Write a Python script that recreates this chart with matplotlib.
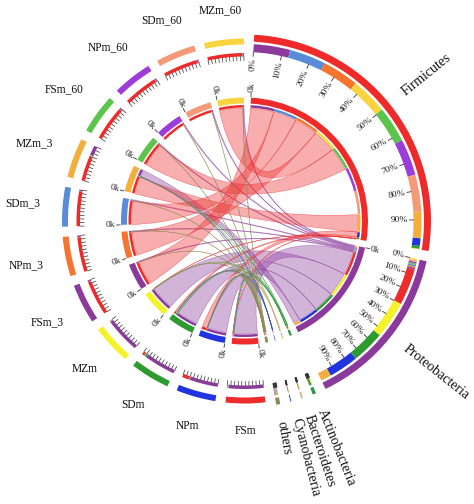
import numpy as np
import matplotlib
matplotlib.use("Agg")
import matplotlib.pyplot as plt
from matplotlib.patches import Wedge, PathPatch
from matplotlib.path import Path
from matplotlib.colors import to_rgb

plt.rcParams['font.family'] = ['Liberation Serif', 'DejaVu Serif']

# ---------------- data ----------------
taxa = ["Firmicutes", "Proteobacteria", "Actinobacteria", "Bacteroidetes", "Cyanobacteria", "others"]
taxa_colors = ["#EE2A2A", "#8B3A9B", "#2E9B3E", "#C8B47E", "#3552D6", "#8C8A55"]

samples = ["FSm", "NPm", "SDm", "MZm", "FSm_3", "NPm_3", "SDm_3", "MZm_3",
           "FSm_60", "NPm_60", "SDm_60", "MZm_60"]
sample_colors = ["#EE2C2C", "#2233E0", "#2E9B30", "#F5F22A", "#8B3A9B", "#F7742F",
                 "#5A8BD9", "#F5AE3C", "#5BC54B", "#9C3DDB", "#F49A78", "#F8D53E"]

# relative abundance (%) of each phylum in each sample
firmicutes     = [1, 20, 7, 1, 95, 95, 95, 70, 95, 95, 95, 95]
proteobacteria = [95, 78, 86, 97, 4, 4, 4, 27, 4, 4, 4, 4]
actinobacteria = [1, 0.5, 5, 1, 0, 0, 0, 1, 0, 0, 0, 0]
bacteroidetes  = [1, 0.5, 1, 0.5, 0, 0, 0, 1, 0, 0, 0, 0]
cyanobacteria  = [1, 0.5, 0.5, 0, 0, 0, 0, 0.5, 0, 0, 0, 0]
others         = [1, 0.5, 0.5, 0.5, 1, 1, 1, 0.5, 1, 1, 1, 1]
table = [firmicutes, proteobacteria, actinobacteria, bacteroidetes, cyanobacteria, others]

# order of links inside each segment
firm_link_order = ["FSm_3", "SDm_3", "NPm_3", "MZm_60", "FSm_60", "NPm_60", "SDm_60",
                   "MZm_3", "NPm", "SDm", "FSm", "MZm"]
prot_link_order = ["MZm_60", "SDm_60", "NPm_60", "FSm_60", "SDm_3", "NPm_3", "FSm_3",
                   "FSm", "MZm", "SDm", "NPm", "MZm_3"]
minor_link_order = ["MZm_60", "SDm_60", "NPm_60", "FSm_60", "MZm_3", "SDm_3", "NPm_3",
                    "FSm_3", "MZm", "SDm", "NPm", "FSm"]
proteo_first_samples = ["FSm", "NPm", "SDm", "MZm"]
proteo_first_order = ["Proteobacteria", "Actinobacteria", "Bacteroidetes", "Cyanobacteria", "others", "Firmicutes"]
firm_first_order = ["Firmicutes", "Actinobacteria", "Bacteroidetes", "Cyanobacteria", "others", "Proteobacteria"]
hidden_links = [("Firmicutes", "NPm_60"), ("Firmicutes", "SDm_60")]

# ---------------- geometry ----------------
W, H = 474, 504
CX, CY = 244.5, 221.0
START, GAP = 3.0, 3.2

val = {(t, s): table[i][j] for i, t in enumerate(taxa) for j, s in enumerate(samples)}
tcol = dict(zip(taxa, taxa_colors))
scol = dict(zip(samples, sample_colors))

seg_names = taxa + samples
seg_tot = {t: sum(table[i]) for i, t in enumerate(taxa)}
for j, s in enumerate(samples):
    seg_tot[s] = sum(table[i][j] for i in range(len(taxa)))
grand = sum(seg_tot.values())
unit = (360.0 - GAP * len(seg_names)) / grand

seg_start, seg_end = {}, {}
a = START
for n in seg_names:
    seg_start[n] = a
    seg_end[n] = a + seg_tot[n] * unit
    a = seg_end[n] + GAP

# link positions on each side
pos_t, pos_s = {}, {}
for t in taxa:
    order = firm_link_order if t == "Firmicutes" else prot_link_order if t == "Proteobacteria" else minor_link_order
    a = seg_start[t]
    for s in order:
        v = val[(t, s)]
        if v > 0:
            pos_t[(t, s)] = (a, a + v * unit)
            a += v * unit
for s in samples:
    order = proteo_first_order if s in proteo_first_samples else firm_first_order
    a = seg_start[s]
    for t in order:
        v = val[(t, s)]
        if v > 0:
            pos_s[(t, s)] = (a, a + v * unit)
            a += v * unit

fig = plt.figure(figsize=(W / 100, H / 100), dpi=100)
ax = fig.add_axes([0, 0, 1, 1])
ax.set_xlim(-CX, W - CX)
ax.set_ylim(-(H - CY), CY)
ax.set_aspect('equal')
ax.axis('off')


def pt(th, r):
    t = np.radians(th)
    return np.array([r * np.sin(t), r * np.cos(t)])


def band(th1, th2, r1, r2, color, z=3):
    ax.add_patch(Wedge((0, 0), r2, 90 - th2, 90 - th1, width=r2 - r1,
                       facecolor=color, edgecolor='none', zorder=z))


def ribbon(a1, a2, b1, b2, color, R=113.0):
    verts, codes = [], []
    n1 = max(2, int(abs(a2 - a1) * 3) + 2)
    n2 = max(2, int(abs(b2 - b1) * 3) + 2)
    for k, th in enumerate(np.linspace(a1, a2, n1)):
        verts.append(pt(th, R))
        codes.append(Path.MOVETO if k == 0 else Path.LINETO)
    verts += [(0, 0), pt(b1, R)]
    codes += [Path.CURVE3, Path.CURVE3]
    for th in np.linspace(b1, b2, n2)[1:]:
        verts.append(pt(th, R))
        codes.append(Path.LINETO)
    verts += [(0, 0), pt(a1, R)]
    codes += [Path.CURVE3, Path.CURVE3]
    rgb = to_rgb(color)
    ax.add_patch(PathPatch(Path(verts, codes), facecolor=(*rgb, 0.38),
                           edgecolor=(*rgb, 0.6), lw=0.4, zorder=1))


# ribbons
for t in ["Proteobacteria", "Firmicutes", "Actinobacteria", "Bacteroidetes", "Cyanobacteria", "others"]:
    for s in samples:
        if (t, s) in pos_t and (t, s) not in hidden_links:
            a1, a2 = pos_t[(t, s)]
            b1, b2 = pos_s[(t, s)]
            ribbon(a1, a2, b1, b2, tcol[t])

# inner ring bands
for n in seg_names:
    c = tcol[n] if n in taxa else scol[n]
    band(seg_start[n], seg_end[n], 117.5, 123.5, c)
for (t, s), (a1, a2) in pos_t.items():
    band(a1, a2, 113.5, 116.0, scol[s])
for (t, s), (b1, b2) in pos_s.items():
    band(b1, b2, 113.5, 116.0, tcol[t])

# middle (composition) bands and outer bands
for t in taxa:
    for s in samples:
        if (t, s) in pos_t:
            a1, a2 = pos_t[(t, s)]
            band(a1, a2, 169.0, 177.0, scol[s])
    band(seg_start[t], seg_end[t], 179.5, 186.5, tcol[t])
    span = seg_end[t] - seg_start[t]
    for k in range(10):
        th = seg_start[t] + span * k / 10
        p1, p2 = pt(th, 165.0), pt(th, 169.0)
        ax.plot([p1[0], p2[0]], [p1[1], p2[1]], color='#333333', lw=0.6, zorder=4)
        if span > 10:
            p = pt(th, 163.5)
            ax.text(p[0], p[1], f"{k * 10}%", rotation=90 - th, rotation_mode='anchor',
                    ha='right', va='center', fontsize=6.8, color='#222222')

for s in samples:
    for t in taxa:
        if (t, s) in pos_s:
            b1, b2 = pos_s[(t, s)]
            band(b1, b2, 164.5, 168.0, tcol[t])
    band(seg_start[s], seg_end[s], 176.5, 182.5, scol[s])
    span = seg_end[s] - seg_start[s]
    for k in range(11):
        th = seg_start[s] + span * k / 10
        p1, p2 = pt(th, 160.5), pt(th, 164.5)
        ax.plot([p1[0], p2[0]], [p1[1], p2[1]], color='#444444', lw=0.55, zorder=4)

# "0k" start labels
for n in seg_names:
    if seg_end[n] - seg_start[n] < 5:
        continue
    th = seg_start[n]
    p1, p2 = pt(th, 124.5), pt(th, 128.0)
    ax.plot([p1[0], p2[0]], [p1[1], p2[1]], color='#333333', lw=0.6, zorder=4)
    p = pt(th, 129.0)
    if th < 180:
        ax.text(p[0], p[1], "0k", rotation=90 - th, rotation_mode='anchor',
                ha='left', va='center', fontsize=6.8, color='#222222')
    else:
        ax.text(p[0], p[1], "0k", rotation=270 - th, rotation_mode='anchor',
                ha='right', va='center', fontsize=6.8, color='#222222')

# taxa labels (radial)
for t in taxa:
    mid = (seg_start[t] + seg_end[t]) / 2
    p = pt(mid, 204.0)
    ax.text(p[0], p[1], t, rotation=90 - mid, rotation_mode='anchor',
            ha='left', va='center', fontsize=10.0, color='#111111')

# sample labels (horizontal)
fig.canvas.draw()
renderer = fig.canvas.get_renderer()
for s in samples:
    mid = (seg_start[s] + seg_end[s]) / 2
    txt = ax.text(0, 0, s, ha='center', va='center', fontsize=8.3, color='#111111')
    bb = txt.get_window_extent(renderer)
    w, h = bb.width, bb.height * 0.8
    t = np.radians(mid)
    r = 205.0 + (w / 2) * abs(np.sin(t)) + (h / 2) * abs(np.cos(t))
    p = pt(mid, r)
    txt.set_position((p[0], p[1]))

fig.savefig("out.png", dpi=100)
